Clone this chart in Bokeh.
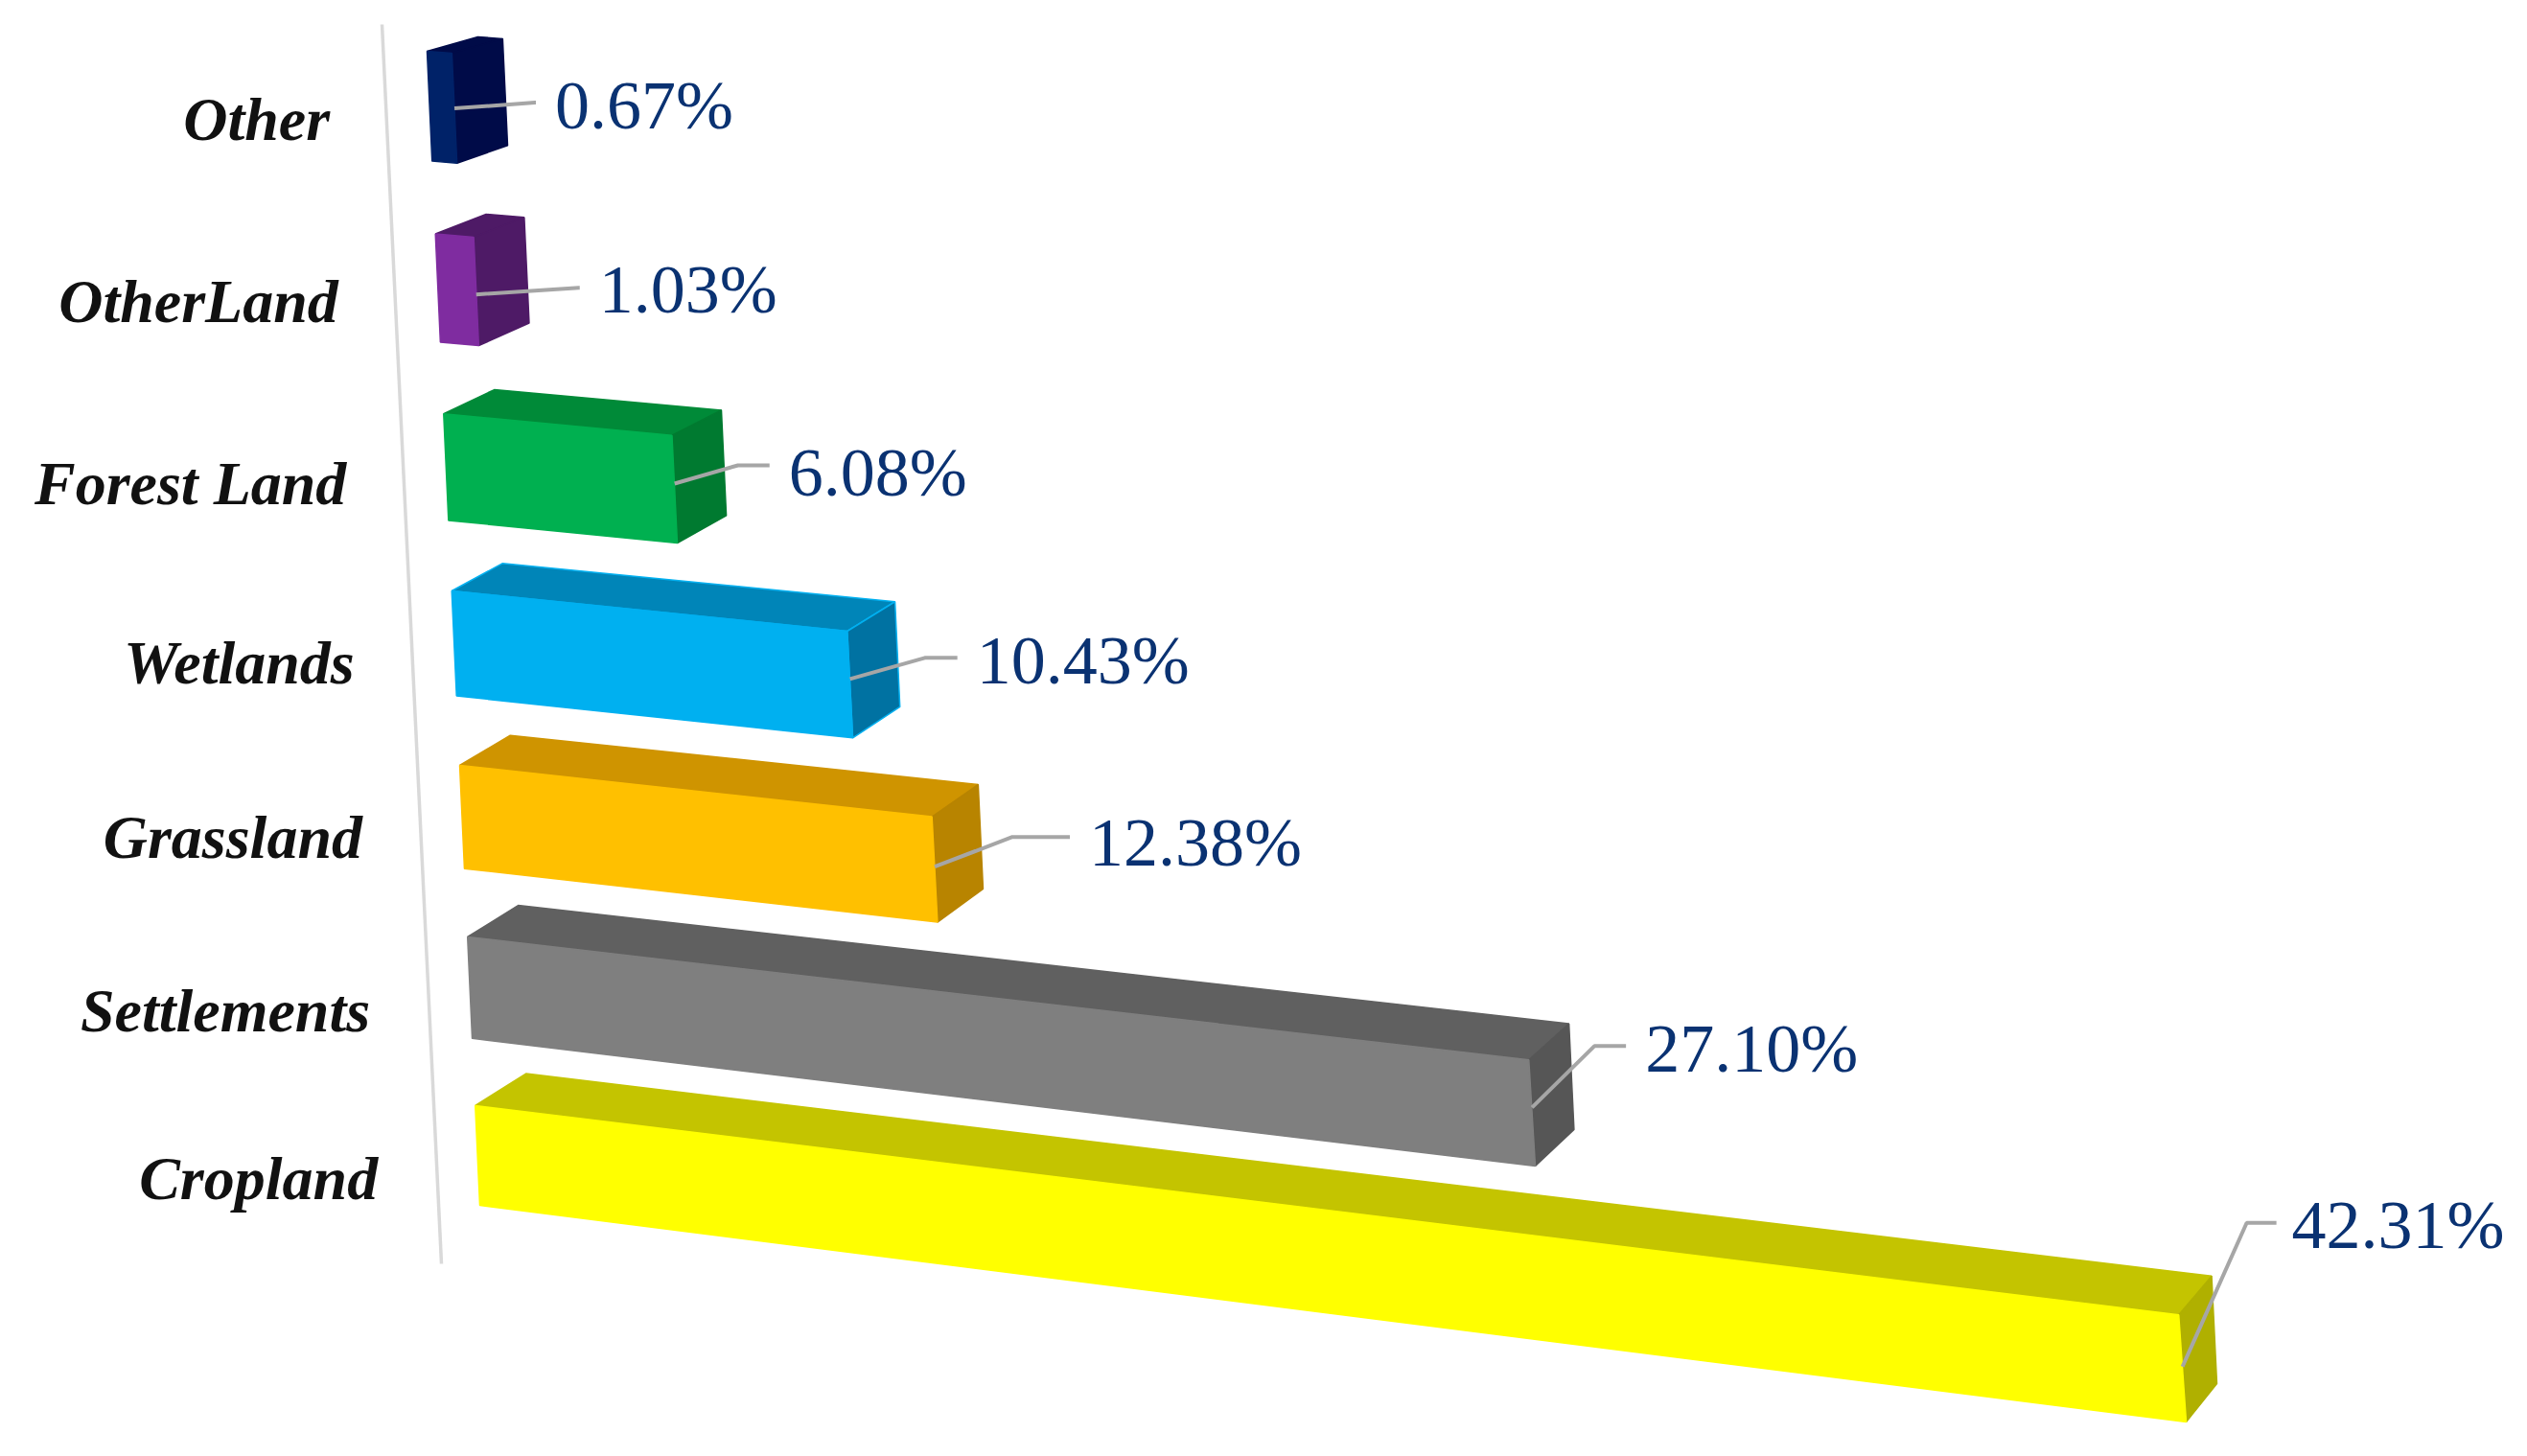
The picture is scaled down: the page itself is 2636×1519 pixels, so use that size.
import numpy as np
from bokeh.plotting import figure
from bokeh.models import ColumnDataSource, Range1d
from bokeh.core.properties import value
from bokeh.embed import file_html
from bokeh.resources import INLINE

# ---- data (bottom row first) ----
categories = ["Cropland", "Settlements", "Grassland", "Wetlands", "Forest Land", "OtherLand", "Other"]
shares = [42.31, 27.10, 12.38, 10.43, 6.08, 1.03, 0.67]

# ---- colours ----
front_colors = ["#FFFF00", "#7F7F7F", "#FFC000", "#00B0F0", "#00B050", "#7F2CA0", "#002268"]
top_colors = ["#C4C400", "#606060", "#CF9400", "#0085B8", "#008A38", "#4E1A66", "#000B48"]
side_colors = ["#B0B000", "#565656", "#B88400", "#0072A2", "#007A30", "#4E1A66", "#000B48"]
edge_colors = ["#FFFF00", "#7A7A7A", "#FFC000", "#00B0F0", "#00B050", "#7F2CA0", "#002268"]

# ---- leader geometry, relative to the end of each bar (pixels) ----
leader_start_dy = [-2, -6, -3, -6, -6, 3, 0]
leader_end_dx = [98, 98, 141, 112, 99, 108, 85]
leader_end_dy = [-150, -64, -31, -22, -19, -7, -6]
elbow_back = [30, 32, 59, 33, 32, 0, 0]
label_gap = [16, 20, 20, 20, 20, 20, 20]
label_dy = [2, 3, 6, 3, 8, 2, 3]
category_dy = [24, 24, 21, 20, 17, 14, 14]

BAR_HALF = 0.3
WARP_FRONT = 0.0105
WARP_BACK = 0.0055
W, H = 2636, 1519


def homography(src, dst):
    rows = []
    for (a, b), (x, y) in zip(src, dst):
        rows.append([a, b, 1, 0, 0, 0, -x * a, -x * b, -x])
        rows.append([0, 0, 0, a, b, 1, -y * a, -y * b, -y])
    return np.linalg.svd(np.array(rows, float))[2][-1].reshape(3, 3)


vmax = max(shares)
U0, U1 = -BAR_HALF, 6 + BAR_HALF
plane_corners = [(0, U0), (vmax, U0), (0, U1), (vmax, U1)]
H_front = homography(plane_corners, [(500, 1257), (2280, 1483), (445, 53), (2190, 192)])
H_back = homography(plane_corners, [(553, 1224), (2312, 1443), (498, 38), (2250, 168)])


def project(h, v, u, warp):
    # row warp: the rows of the picture are not evenly spaced
    u = u - warp * (u - U0) * (U1 - u)
    q = h @ np.array([v, u, 1.0])
    return q[0] / q[2], q[1] / q[2]


p = figure(width=W - 16, height=H - 16, x_range=Range1d(0, W - 16), y_range=Range1d(H - 16, 0),
           output_backend="svg", toolbar_location=None, min_border=0,
           background_fill_color="white", border_fill_color="white", outline_line_color=None)
p.axis.visible = False
p.grid.visible = False

# category axis line
p.line([398, 460], [25, 1318], line_color="#D9D9D9", line_width=3.5)

face_xs, face_ys, face_fill, face_edge = [], [], [], []
lead_xs, lead_ys = [], []
lab_x, lab_y, lab_t = [], [], []
cat_x, cat_y = [], []

for c, v in enumerate(shares):
    top, bot = c + BAR_HALF, c - BAR_HALF
    f_tl = project(H_front, 0, top, WARP_FRONT)
    f_bl = project(H_front, 0, bot, WARP_FRONT)
    f_tr = project(H_front, v, top, WARP_FRONT)
    f_br = project(H_front, v, bot, WARP_FRONT)
    b_tl = project(H_back, 0, top, WARP_BACK)
    b_tr = project(H_back, v, top, WARP_BACK)
    b_br = project(H_back, v, bot, WARP_BACK)
    for pts, col in (([f_tl, f_tr, b_tr, b_tl], top_colors[c]),
                     ([f_tr, f_br, b_br, b_tr], side_colors[c]),
                     ([f_tl, f_tr, f_br, f_bl], front_colors[c])):
        face_xs.append([q[0] for q in pts])
        face_ys.append([q[1] for q in pts])
        face_fill.append(col)
        face_edge.append(edge_colors[c] if c == 3 else col)

    sx, sy = project(H_front, v, c, WARP_FRONT)
    sy += leader_start_dy[c]
    ex, ey = sx + leader_end_dx[c], sy + leader_end_dy[c]
    lead_xs.append([sx, ex - elbow_back[c] - 1, ex])
    lead_ys.append([sy, ey, ey])
    lab_x.append(ex + label_gap[c])
    lab_y.append(ey + label_dy[c])
    lab_t.append(f"{v:.2f}%")

    ax, ay = project(H_front, 0, c, WARP_FRONT)
    cat_x.append(ax - 104)
    cat_y.append(ay + category_dy[c])

p.patches("xs", "ys", source=ColumnDataSource(dict(xs=face_xs, ys=face_ys, fill=face_fill, edge=face_edge)),
          fill_color="fill", line_color="edge", line_width=1.5)
p.multi_line(lead_xs, lead_ys, line_color="#A6A6A6", line_width=4)

p.text("x", "y", "t", source=ColumnDataSource(dict(x=lab_x, y=lab_y, t=lab_t)),
       text_font=value("Liberation Serif"), text_font_size="72px", text_color="#0A3272",
       text_align="left", text_baseline="middle")
p.text("x", "y", "t", source=ColumnDataSource(dict(x=cat_x, y=cat_y, t=categories)),
       text_font=value("Liberation Serif"), text_font_size="64px", text_font_style="bold italic",
       text_color="#111111", text_align="right", text_baseline="middle")

open("out.html", "w").write(file_html(p, INLINE))
